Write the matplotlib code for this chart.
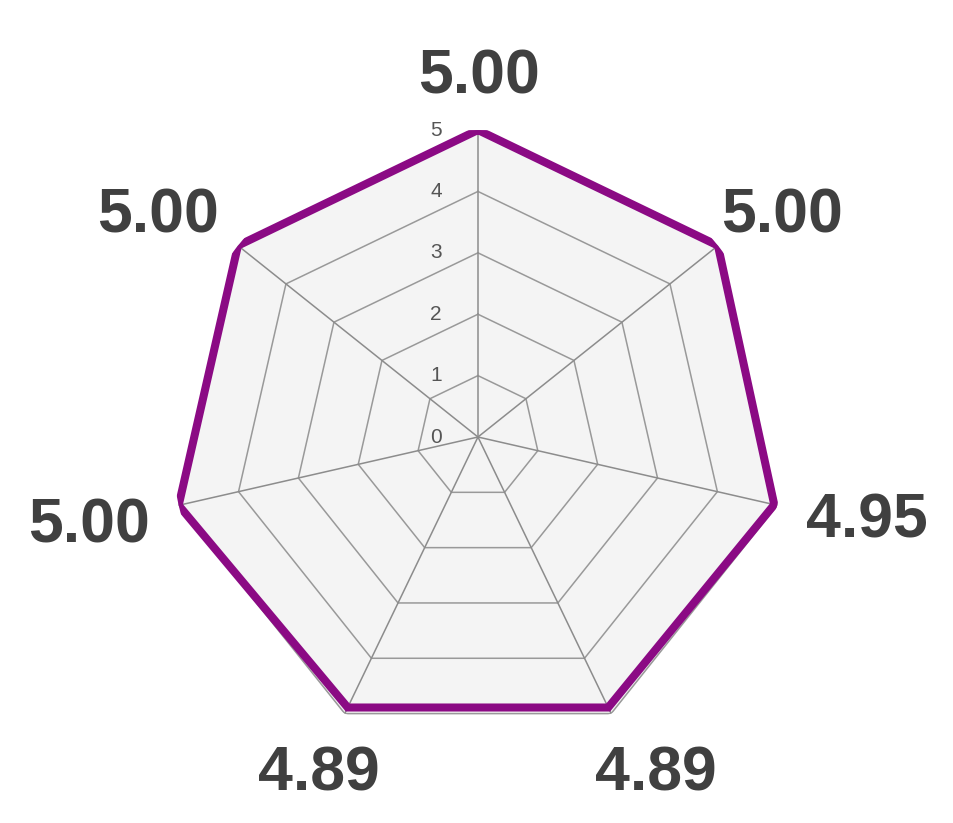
import numpy as np
import matplotlib
matplotlib.use('Agg')
import matplotlib.pyplot as plt

# --- data ---
values = [5.00, 5.00, 4.95, 4.89, 4.89, 5.00, 5.00]
value_labels = ['5.00', '5.00', '4.95', '4.89', '4.89', '5.00', '5.00']
ring_levels = [1, 2, 3, 4, 5]
tick_labels = ['0', '1', '2', '3', '4', '5']

# label placement relative to each vertex (pixels, baseline-centred)
label_offsets = [(1, 37), (64, 13), (93, -33), (48, -83), (-29, -83), (-90, -37), (-80, 13)]

plt.rcParams['font.family'] = ['Liberation Sans', 'DejaVu Sans']

n = len(values)
theta = np.linspace(0, 2 * np.pi, n, endpoint=False)
theta_closed = np.append(theta, theta[0])

fig = plt.figure(figsize=(9.54, 8.23), dpi=100)
ax = fig.add_axes([0.1792, 0.096, 0.6436, 0.746], projection='polar')
ax.set_theta_zero_location('N')
ax.set_theta_direction(-1)
ax.set_ylim(0, 5)
ax.grid(False)
ax.spines['polar'].set_visible(False)
ax.set_xticks([])
ax.set_yticks([])
ax.patch.set_alpha(0)

grid_col = '#999999'
# background polygon
ax.fill(theta_closed, [ring_levels[-1]] * (n + 1), color='#f4f4f4', zorder=0)
# rings
for lv in ring_levels:
    ax.plot(theta_closed, [lv] * (n + 1), color=grid_col, lw=1.1, zorder=1)
# spokes
for t in theta:
    ax.plot([t, t], [0, ring_levels[-1]], color='#8c8c8c', lw=1.1, zorder=1)

# data polygon
vals_closed = values + values[:1]
ax.plot(theta_closed, vals_closed, color='#8b0a84', lw=5.8, solid_joinstyle='miter', zorder=3)

# radial tick labels
for i, lab in enumerate(tick_labels):
    ax.annotate(lab, xy=(0, i), xytext=(-42, 0), textcoords='offset pixels',
                ha='center', va='center', fontsize=15, color='#555555', zorder=4)

# value labels outside each vertex
for t, v, lab, off in zip(theta, values, value_labels, label_offsets):
    ax.annotate(lab, xy=(t, v), xytext=off, textcoords='offset pixels',
                ha='center', va='baseline', fontsize=45, fontweight='bold',
                color='#404040', annotation_clip=False, zorder=5)

fig.savefig('out.png', dpi=100)
